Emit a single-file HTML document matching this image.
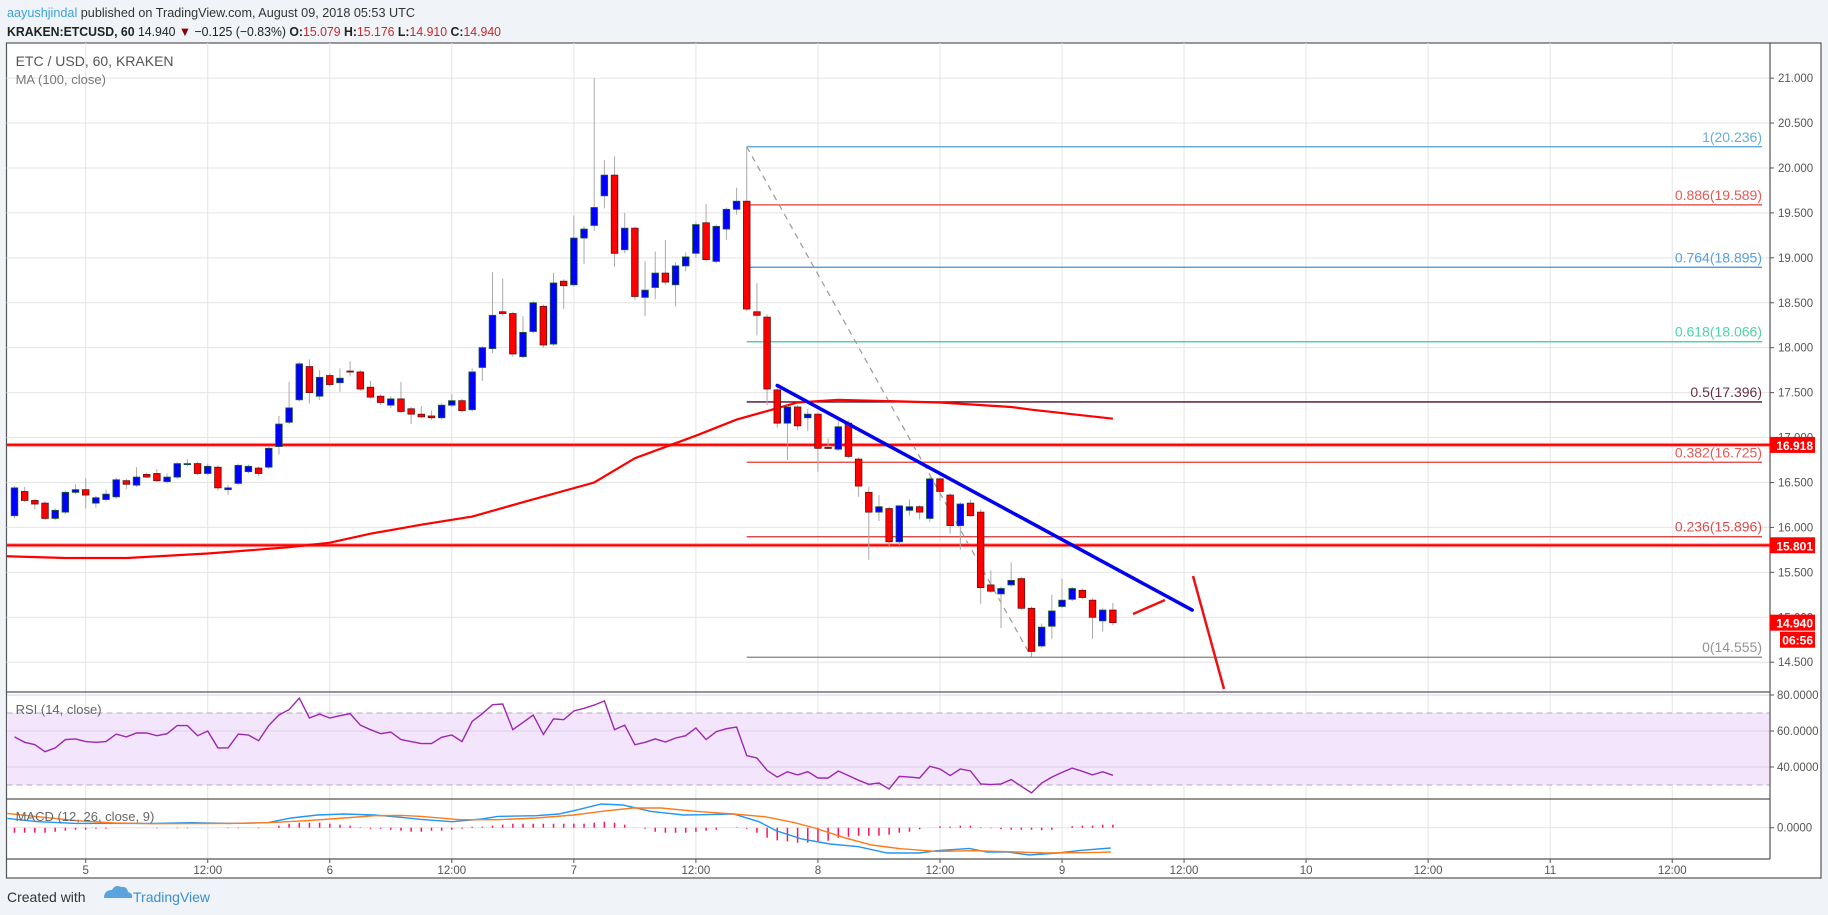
<!DOCTYPE html>
<html><head><meta charset="utf-8"><style>
html,body{margin:0;padding:0;background:#f0f3f7;}
svg{display:block;font-family:"Liberation Sans",sans-serif;}
</style></head><body>
<svg id="c" width="1828" height="915" xmlns="http://www.w3.org/2000/svg">
<rect x="0" y="0" width="1828" height="915" fill="#f0f3f7"/>
<text x="7" y="17" font-size="13" fill="#333" textLength="408" lengthAdjust="spacingAndGlyphs"><tspan fill="#3aa3dc">aayushjindal</tspan> published on TradingView.com, August 09, 2018 05:53 UTC</text>
<text x="7" y="36" font-size="13" fill="#222" textLength="494" lengthAdjust="spacingAndGlyphs"><tspan font-weight="bold">KRAKEN:ETCUSD, 60</tspan> 14.940 <tspan fill="#8b0000">▼</tspan> −0.125 (−0.83%) <tspan font-weight="bold">O:</tspan><tspan fill="#c62828">15.079</tspan> <tspan font-weight="bold">H:</tspan><tspan fill="#c62828">15.176</tspan> <tspan font-weight="bold">L:</tspan><tspan fill="#c62828">14.910</tspan> <tspan font-weight="bold">C:</tspan><tspan fill="#c62828">14.940</tspan></text>
<rect x="6.5" y="43" width="1814.5" height="835" fill="#fff" stroke="#555" stroke-width="1.2"/>
<g id="grid"></g>
<g id="main"></g>
<g id="rsi"></g>
<g id="macd"></g>
<g id="axes"></g>
<text x="7" y="902" font-size="14" fill="#333">Created with</text>
<g><path d="M104 898 q0-8 8-8 q3-6 9-3 q6-1 7 5 q5 1 4 6 z" fill="#5aa3dc"/><text x="133" y="902" font-size="14" fill="#3a8fd8">TradingView</text></g>
</svg>
<script>
const opens=[16.13,16.40,16.30,16.27,16.10,16.17,16.39,16.42,16.27,16.31,16.34,16.52,16.47,16.59,16.60,16.51,16.56,16.70,16.71,16.60,16.67,16.42,16.49,16.62,16.66,16.67,16.90,17.17,17.42,17.79,17.46,17.69,17.61,17.74,17.73,17.56,17.46,17.36,17.43,17.32,17.26,17.24,17.22,17.36,17.41,17.31,17.78,17.99,18.40,18.38,17.90,18.18,18.46,18.04,18.74,18.70,19.22,19.36,19.69,19.92,19.09,19.33,18.56,18.67,18.83,18.70,18.91,19.05,19.39,18.96,19.32,19.54,19.63,18.40,18.34,17.53,17.16,17.34,17.22,17.26,16.89,16.87,17.16,16.76,16.39,16.17,16.21,15.84,16.19,16.23,16.10,16.54,16.36,16.02,16.27,16.17,15.36,15.26,15.36,15.43,15.10,14.68,14.90,15.12,15.20,15.30,15.19,14.96,15.08];
const highs=[16.46,16.45,16.32,16.29,16.21,16.41,16.48,16.55,16.35,16.42,16.55,16.54,16.67,16.61,16.65,16.60,16.73,16.76,16.73,16.71,16.69,16.47,16.71,16.70,16.68,16.90,17.24,17.62,17.84,17.87,17.75,17.72,17.77,17.85,17.75,17.63,17.48,17.46,17.62,17.34,17.35,17.30,17.38,17.48,17.43,17.77,18.02,18.84,18.77,18.40,18.35,18.52,18.48,18.83,18.76,19.47,19.35,21.00,20.09,20.13,19.50,19.35,18.96,19.07,19.20,18.95,19.06,19.40,19.60,19.37,19.56,19.78,20.24,18.72,18.37,17.56,17.36,17.36,17.32,17.28,16.99,17.18,17.19,16.78,16.45,16.36,16.23,16.25,16.31,16.25,16.56,16.56,16.38,16.28,16.31,16.20,15.52,15.34,15.61,15.45,15.12,14.93,15.25,15.43,15.34,15.32,15.21,15.10,15.16];
const lows=[16.10,16.28,16.20,16.08,16.08,16.15,16.37,16.21,16.22,16.29,16.32,16.43,16.45,16.55,16.50,16.49,16.54,16.68,16.58,16.58,16.41,16.36,16.47,16.60,16.57,16.65,16.81,17.15,17.40,17.38,17.42,17.57,17.51,17.68,17.52,17.43,17.36,17.33,17.27,17.15,17.22,17.20,17.20,17.34,17.28,17.29,17.63,17.94,18.35,17.90,17.88,18.16,18.00,18.02,18.43,18.68,18.93,19.30,19.55,18.90,19.05,18.53,18.35,18.54,18.70,18.46,18.85,19.00,18.96,18.94,19.20,19.48,18.41,18.14,17.36,17.11,16.75,17.08,17.07,16.62,16.87,16.85,16.77,16.34,15.64,16.07,15.78,15.80,16.13,16.09,16.06,16.30,15.93,15.75,16.12,15.15,15.27,14.88,15.34,15.08,14.56,14.66,14.76,15.10,15.18,15.20,14.76,14.84,14.91];
const closes=[16.44,16.30,16.26,16.10,16.19,16.39,16.42,16.36,16.33,16.37,16.53,16.48,16.56,16.56,16.52,16.56,16.71,16.71,16.60,16.68,16.44,16.44,16.69,16.68,16.60,16.88,17.15,17.33,17.82,17.50,17.67,17.59,17.66,17.73,17.54,17.45,17.39,17.43,17.29,17.26,17.23,17.22,17.36,17.41,17.30,17.73,18.00,18.36,18.38,17.93,18.17,18.50,18.03,18.72,18.69,19.22,19.32,19.56,19.92,19.05,19.33,18.57,18.64,18.83,18.73,18.91,19.01,19.37,18.98,19.35,19.54,19.63,18.43,18.36,17.54,17.16,17.34,17.13,17.26,16.88,16.88,17.12,16.79,16.46,16.17,16.23,15.84,16.24,16.23,16.17,16.54,16.40,16.02,16.26,16.13,15.33,15.29,15.32,15.41,15.10,14.62,14.89,15.07,15.19,15.32,15.22,15.00,15.08,14.94];
const firstHour=-7;
const maHours=[-8,-2,4,12,20,24,28,33,38,43,50,54,60,64,70,74,84,91,93,101];
const maValues=[15.68,15.66,15.66,15.71,15.78,15.83,15.93,16.03,16.12,16.28,16.50,16.77,17.02,17.20,17.39,17.42,17.39,17.34,17.31,17.21];
const rsiValues=[56.7,53.7,52.4,48.5,50.6,55.2,55.6,54.1,53.7,54.1,58.3,56.7,58.9,58.9,57.4,58.5,63.0,63.0,57.4,60.0,50.6,50.6,58.3,57.8,54.6,63.1,68.9,71.9,78.3,67.2,69.4,67.2,68.5,69.6,63.3,60.7,58.5,59.4,55.2,54.1,53.0,53.0,56.5,57.8,54.1,65.4,69.6,74.6,75.0,60.7,64.8,68.9,58.1,66.7,66.3,71.1,72.6,74.4,76.7,60.7,63.3,52.4,53.7,55.6,53.9,56.1,57.4,61.7,55.2,59.6,61.3,62.2,46.3,45.0,38.1,34.4,37.4,35.6,37.4,33.9,33.9,37.8,35.2,32.6,30.4,31.1,27.8,34.8,34.4,33.9,40.4,38.9,35.2,38.9,37.8,30.6,30.2,30.6,33.0,29.3,25.6,31.1,34.4,37.0,39.4,37.6,35.6,37.4,35.4];
const rsiTicks=[80,60,40];
const macdHours=[-7.7,-4.7,-0.9,6.6,10.4,14.2,17.9,20.2,22.8,25.4,28.4,31.1,33,36,39,40.5,44.3,46.5,48,50.7,52.8,55.6,58.8,60.9,63.7,66.2,67.9,70.4,73.2,76,78.8,82,83.7,86.9,88.6,90.7,92.8,95.6,97.8,100.8];
const macdValues=[.093,.060,.043,.043,.050,.043,.050,.097,.127,.137,.127,.103,.083,.060,.087,.113,.120,.137,.170,.237,.227,.163,.127,.130,.137,.060,-.030,-.113,-.163,-.190,-.253,-.253,-.230,-.207,-.243,-.243,-.273,-.253,-.227,-.203];
const signalHours=[-7.7,-4.7,-0.9,2.9,6.6,14.2,17.9,21.7,25.4,28.4,31.1,33,36.8,40.5,44.3,48,50.7,53.8,56.6,60.1,63.7,66.8,69.6,71.7,74.5,77.3,80.1,83.7,87.2,90.7,94.3,99.5,100.8];
const signalValues=[.143,.110,.070,.047,.040,.043,.050,.070,.097,.120,.123,.113,.080,.080,.097,.127,.163,.197,.197,.163,.137,.110,.053,-.003,-.097,-.173,-.210,-.237,-.230,-.240,-.253,-.247,-.243];
const histValues=[-5,-5,-5,-5,-4,-3,-2,-2,-1,-1,0,0,0,0,-0.5,0,-0.5,-0.5,0,0,0,-0.5,-0.5,0,-0.5,0,2,4,5,5,5,4,3,2,0.5,-1,-1,-2,-3,-4,-4,-3,-3,-2,-1,1,1,2,3,4,4,4,4,4,4,4,4,5,6,5,3,0,-1,-4,-5,-5,-5,-4,-3,-2,0,0.5,-1,-5,-10,-12.7,-13.7,-15,-15,-14,-13,-10,-9,-8,-8,-8,-7,-5,-4,-1.5,0,1.5,1,2,2,0.5,-0.5,-1.5,-2,-2,-2,-2.5,-2,0,1.5,2,2,3,3];
const priceTicks=[21.0,20.5,20.0,19.5,19.0,18.5,18.0,17.5,17.0,16.5,16.0,15.5,15.0,14.5];
const timeLabels=["5","12:00","6","12:00","7","12:00","8","12:00","9","12:00","10","12:00","11","12:00"];
const fibLevels=[1,0.886,0.764,0.618,0.5,0.382,0.236,0];
const fibPrices=[20.236,19.589,18.895,18.066,17.396,16.725,15.896,14.555];
const fibColors=["#4a9fd4","#e53935","#3a8fd8","#2ecc9a","#4a0a2a","#e53935","#d32f2f","#808080"];
const levelPrices=[16.918,15.801];
const fibStartHour=65, fibEndHour=93;
const trendStart=[68, 17.58], trendEnd=[108.8, 15.08];

const NS="http://www.w3.org/2000/svg";
const L=6.5,R=1770,PT=43,PB=692,RB=799,MB=859;
function xh(h){return 85.7+h*10.17;}
function yp(p){return 78.1+(21-p)*89.86;}
function yr(v){return 695+(80-v)*1.8;}
function ym(v){return 827.7-v*100;}
function yh(v){return 827.7-v;}
function mk(parent,tag,attrs,text){const e=document.createElementNS(NS,tag);for(const k in attrs)e.setAttribute(k,attrs[k]);if(text!==undefined)e.textContent=text;document.getElementById(parent).appendChild(e);return e;}

const defs=document.createElementNS(NS,'defs');
defs.innerHTML='<clipPath id="cp"><rect x="7" y="43" width="1763" height="649"/></clipPath><clipPath id="cr"><rect x="7" y="692" width="1763" height="107"/></clipPath><clipPath id="cm"><rect x="7" y="799" width="1763" height="60"/></clipPath>';
document.getElementById('c').insertBefore(defs,document.getElementById('c').firstChild);
document.getElementById('main').setAttribute('clip-path','url(#cp)');
document.getElementById('rsi').setAttribute('clip-path','url(#cr)');
document.getElementById('macd').setAttribute('clip-path','url(#cm)');

for(let k=0;k<14;k++){const x=xh(k*12);let e=mk('grid','line',{x1:x,x2:x,y1:PT,y2:MB,stroke:'#e4e4e4','stroke-width':1});

}
priceTicks.forEach(p=>{let e=mk('grid','line',{x1:L,x2:R,y1:yp(p),y2:yp(p),stroke:'#e4e4e4','stroke-width':1});

});
let band=mk('rsi','rect',{x:L,y:yr(70),width:R-L,height:yr(30)-yr(70),fill:'#f3e5fc'});


rsiTicks.forEach(v=>{let e=mk('rsi','line',{x1:L,x2:R,y1:yr(v),y2:yr(v),stroke:'#ddd0e6','stroke-width':1});

});
[70,30].forEach(v=>{let e=mk('rsi','line',{x1:L,x2:R,y1:yr(v),y2:yr(v),stroke:'#b4a8bc','stroke-width':1,'stroke-dasharray':'6 4'});

});
let z0=mk('macd','line',{x1:L,x2:R,y1:ym(0),y2:ym(0),stroke:'#e4e4e4','stroke-width':1});



const fx1=xh(fibStartHour);
fibPrices.forEach((p,i)=>{
 let ln=mk('main','line',{x1:fx1,x2:1762,y1:yp(p),y2:yp(p),stroke:fibColors[i],'stroke-width':1.3});
 
 
 let t=mk('main','text',{x:1762,y:yp(p)-5,'font-size':14,fill:fibColors[i],'text-anchor':'end','fill-opacity':0.85},fibLevels[i]+'('+p.toFixed(3)+')');
 
 
});
let dl=mk('main','line',{x1:fx1,y1:yp(fibPrices[0]),x2:xh(fibEndHour),y2:yp(fibPrices[7]),stroke:'#999','stroke-width':1.2,'stroke-dasharray':'6 5'});



levelPrices.forEach(p=>{
 let g=mk('main','line',{x1:L,x2:R,y1:yp(p),y2:yp(p),stroke:'#ff9a9a','stroke-width':4});
 
 
 let e=mk('main','line',{x1:L,x2:R,y1:yp(p),y2:yp(p),stroke:'#ff0000','stroke-width':2});
 
 
});

let d='';maHours.forEach((h,i)=>{d+=(i?'L':'M')+xh(h).toFixed(1)+' '+yp(maValues[i]).toFixed(1);});
let ma=mk('main','path',{d:d,fill:'none',stroke:'#ff0000','stroke-width':2.2});



opens.forEach((o,i)=>{
 const h=firstHour+i,x=xh(h),c=closes[i],up=c>=o;
 let w=mk('main','line',{x1:x,x2:x,y1:yp(highs[i]),y2:yp(lows[i]),stroke:'#aaa','stroke-width':1});
 
 
 const yt=yp(Math.max(o,c)),yb=yp(Math.min(o,c));
 let b=mk('main','rect',{x:x-3.3,y:yt,width:6.6,height:Math.max(1,yb-yt),fill:up?'#0000ff':'#ff0000',stroke:up?'#1e5a2a':'#6b1010','stroke-width':0.8});
 
 
});

let tl=mk('main','line',{x1:xh(trendStart[0]),y1:yp(trendStart[1]),x2:xh(trendEnd[0]),y2:yp(trendEnd[1]),stroke:'#0000ee','stroke-width':3.5,'stroke-linecap':'round'});


let a1=mk('main','line',{x1:1133,y1:614,x2:1165,y2:600,stroke:'#ee1111','stroke-width':2.5});


let a2=mk('main','line',{x1:1193,y1:576,x2:1224,y2:689,stroke:'#ee1111','stroke-width':2.5});



d='';rsiValues.forEach((v,i)=>{d+=(i?'L':'M')+xh(firstHour+i).toFixed(1)+' '+yr(v).toFixed(1);});
let rl=mk('rsi','path',{d:d,fill:'none',stroke:'#9c27b0','stroke-width':1.4});



histValues.forEach((v,i)=>{const x=xh(firstHour+i);
 let e=mk('macd','line',{x1:x,x2:x,y1:yh(0),y2:yh(v),stroke:'#ff1060','stroke-width':1.5});
 
 });
d='';macdHours.forEach((h,i)=>{d+=(i?'L':'M')+xh(h).toFixed(1)+' '+ym(macdValues[i]).toFixed(1);});
let ml=mk('macd','path',{d:d,fill:'none',stroke:'#2196f3','stroke-width':1.4});


d='';signalHours.forEach((h,i)=>{d+=(i?'L':'M')+xh(h).toFixed(1)+' '+ym(signalValues[i]).toFixed(1);});
let sl=mk('macd','path',{d:d,fill:'none',stroke:'#ff7a1a','stroke-width':1.4});



let t1=mk('axes','text',{x:15.6,y:66,'font-size':14,fill:'#555'},'ETC / USD, 60, KRAKEN');


let t2=mk('axes','text',{x:15.6,y:84,'font-size':13,fill:'#777'},'MA (100, close)');


let t3=mk('axes','text',{x:15.6,y:714,'font-size':13,fill:'#666'},'RSI (14, close)');


let t4=mk('axes','text',{x:15.6,y:821,'font-size':13,fill:'#666'},'MACD (12, 26, close, 9)');



[[L,R,PB,PB],[L,R,RB,RB],[L,R,MB,MB],[R,R,PT,MB]].forEach(s=>{let e=mk('axes','line',{x1:s[0],x2:s[1],y1:s[2],y2:s[3],stroke:'#555','stroke-width':1.2});

});

priceTicks.forEach(p=>{const y=yp(p);
 let tk=mk('axes','line',{x1:R,x2:R+4,y1:y,y2:y,stroke:'#555'});
 
 
 if(y>50&&y<688){let e=mk('axes','text',{x:1778,y:y+4,'font-size':11.5,fill:'#555'},p.toFixed(3));
 
 }});
rsiTicks.forEach(v=>{const y=yr(v);
 mk('axes','line',{x1:R,x2:R+4,y1:y,y2:y,stroke:'#555'});
 let e=mk('axes','text',{x:1777,y:y+4,'font-size':11.5,fill:'#555'},v.toFixed(4));
 
 });
mk('axes','line',{x1:R,x2:R+4,y1:ym(0),y2:ym(0),stroke:'#555'});
let mz=mk('axes','text',{x:1777,y:ym(0)+4,'font-size':11.5,fill:'#555'},'0.0000');


function tag(p,label,x0,nm){const y=yp(p);
 let r=mk('axes','rect',{x:x0,y:y-8,width:1815-x0,height:16,fill:'#ff0000'});
 
 
 let t=mk('axes','text',{x:1813,y:y+5,'font-size':12,'font-weight':'bold',fill:'#fff','text-anchor':'end'},label);
 
 }
tag(levelPrices[0],levelPrices[0].toFixed(3),1770,'level-price-tag');
tag(levelPrices[1],levelPrices[1].toFixed(3),1770,'level-price-tag');
tag(closes[closes.length-1],closes[closes.length-1].toFixed(3),1770,'last-price-tag');
tag(closes[closes.length-1]-0.19,'06:56',1780,'countdown-tag');

timeLabels.forEach((s,k)=>{const x=xh(k*12);
 mk('axes','line',{x1:x,x2:x,y1:MB,y2:MB+4,stroke:'#555'});
 let e=mk('axes','text',{x:x,y:874,'font-size':11.5,fill:'#555','text-anchor':'middle'},s);
 
 });
</script>
</body></html>
